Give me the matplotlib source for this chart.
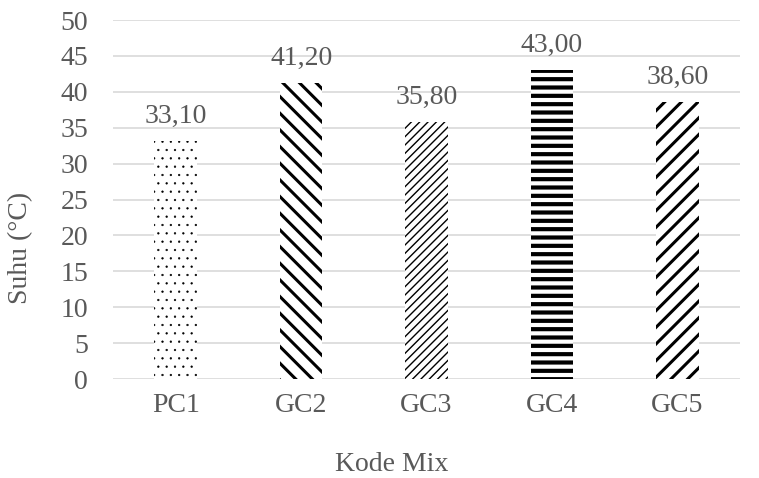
import matplotlib.pyplot as plt
import numpy as np

plt.rcParams['font.family'] = ['Liberation Serif', 'DejaVu Serif']

kode = ["PC1", "GC2", "GC3", "GC4", "GC5"]
suhu = [33.10, 41.20, 35.80, 43.00, 38.60]
labels = ["33,10", "41,20", "35,80", "43,00", "38,60"]

hatches = ["..", "\\\\", "////", "--", "//"]
hatch_lw = [0.4, 2.2, 1.0, 3.0, 2.2]

grey = "#595959"

fig = plt.figure(figsize=(7.59, 4.78), dpi=100)
ax = fig.add_axes([0.149, 0.207, 0.826, 0.751])

x = np.arange(len(kode))
for i in range(len(kode)):
    plt.rcParams['hatch.linewidth'] = hatch_lw[i]
    b = ax.bar(x[i], suhu[i], width=0.34, color="white", edgecolor="black",
               hatch=hatches[i], linewidth=0, zorder=3)
    for p in b:
        if hasattr(p, "set_hatch_linewidth"):
            p.set_hatch_linewidth(hatch_lw[i])
    ax.annotate(labels[i], (x[i], suhu[i]), xytext=(0, 9), textcoords="offset points",
                ha="center", va="bottom", fontsize=20, color=grey)

ax.set_ylim(0, 50)
ax.set_xlim(-0.5, len(kode) - 0.5)
ax.set_yticks(np.arange(0, 51, 5))
ax.set_xticks(x)
ax.set_xticklabels(kode)
ax.yaxis.grid(True, color="#d9d9d9", linewidth=1.2, zorder=0)
ax.set_axisbelow(True)
for s in ax.spines.values():
    s.set_visible(False)
ax.tick_params(axis="both", length=0, labelsize=20, labelcolor=grey)
ax.tick_params(axis="y", pad=18)
ax.tick_params(axis="x", pad=10)

ax.set_xlabel("Kode Mix", fontsize=20, color=grey)
ax.xaxis.set_label_coords(0.445, -0.238)
ax.xaxis.label.set_va("center")
ax.set_ylabel("Suhu (°C)", fontsize=20, color=grey)
ax.yaxis.set_label_coords(-0.148, 0.366)
ax.yaxis.label.set_va("center")

fig.savefig("out.png", dpi=100)
